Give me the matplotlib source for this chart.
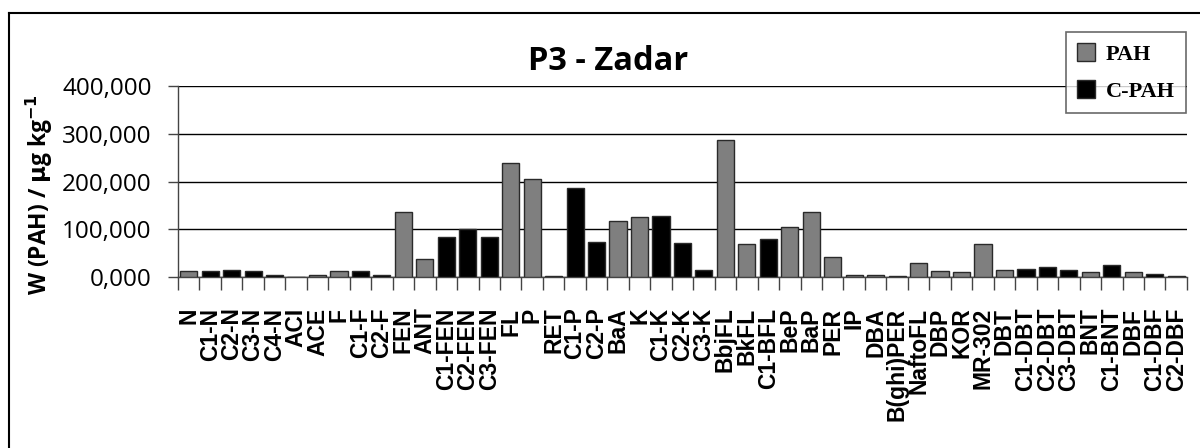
import matplotlib
matplotlib.use("Agg")
import matplotlib.pyplot as plt
from matplotlib.lines import Line2D
from matplotlib.patches import Patch
from matplotlib.ticker import FuncFormatter

categories = ["N", "C1-N", "C2-N", "C3-N", "C4-N", "ACI", "ACE", "F", "C1-F", "C2-F",
              "FEN", "ANT", "C1-FEN", "C2-FEN", "C3-FEN", "FL", "P", "RET", "C1-P", "C2-P",
              "BaA", "K", "C1-K", "C2-K", "C3-K", "BbjFL", "BkFL", "C1-BFL", "BeP", "BaP",
              "PER", "IP", "DBA", "B(ghi)PER", "NaftoFL", "DBP", "KOR", "MR-302", "DBT",
              "C1-DBT", "C2-DBT", "C3-DBT", "BNT", "C1-BNT", "DBF", "C1-DBF", "C2-DBF"]

values = [12.5, 12.5, 14.6, 12.5, 4.0, 0.0, 4.0, 12.5, 12.5, 4.0,
          135.5, 37.0, 84.4, 100.0, 84.4, 238.7, 205.9, 2.0, 185.7, 72.6,
          118.0, 125.0, 128.5, 70.5, 14.6, 287.0, 69.8, 80.3, 104.7, 135.5,
          42.5, 4.0, 4.0, 2.0, 30.0, 12.5, 9.8, 69.8, 14.6,
          17.4, 20.2, 14.6, 9.8, 24.4, 9.8, 7.0, 2.0]  # in thousands of µg/kg

groups = ["PAH", "C-PAH", "C-PAH", "C-PAH", "C-PAH", "PAH", "PAH", "PAH", "C-PAH", "C-PAH",
          "PAH", "PAH", "C-PAH", "C-PAH", "C-PAH", "PAH", "PAH", "PAH", "C-PAH", "C-PAH",
          "PAH", "PAH", "C-PAH", "C-PAH", "C-PAH", "PAH", "PAH", "C-PAH", "PAH", "PAH",
          "PAH", "PAH", "PAH", "PAH", "PAH", "PAH", "PAH", "PAH", "PAH",
          "C-PAH", "C-PAH", "C-PAH", "PAH", "C-PAH", "PAH", "C-PAH", "C-PAH"]

yticks = [0, 100, 200, 300, 400]
title = "P3 - Zadar"
ylabel = r"W (PAH) / $\mathbf{\mu}$g kg$^{\mathbf{-1}}$"

group_colors = {"PAH": "#7f7f7f", "C-PAH": "#000000"}

fig = plt.figure(figsize=(12, 4.48), dpi=100)
ax = fig.add_axes([0.1483, 0.3817, 0.8408, 0.4263])

x = list(range(len(categories)))
cols = [group_colors[g] for g in groups]
ax.bar(x, values, width=0.8, color=cols, edgecolor="#2a2a2a", linewidth=1.0, zorder=3)

ax.set_xlim(-0.5, len(categories) - 0.5)
ax.set_ylim(0, 400)
ax.set_yticks(yticks)
ax.yaxis.set_major_formatter(FuncFormatter(lambda v, p: f"{int(v):d},000" if v > 0 else "0,000"))
ax.grid(axis="y", color="black", linewidth=1.0, zorder=0)
for s in ["top", "right"]:
    ax.spines[s].set_visible(False)
ax.spines["left"].set_color("#444444")
ax.spines["bottom"].set_color("#444444")
ax.spines["left"].set_linewidth(1.0)
ax.spines["bottom"].set_linewidth(1.0)

ax.set_xticks(x)
ax.set_xticklabels(categories, rotation=90, fontfamily="Liberation Sans",
                   fontweight="bold", fontsize=16.5)
ax.tick_params(axis="x", length=0, pad=22)
ax.set_xticks([i - 0.5 for i in range(len(categories) + 1)], minor=True)
ax.tick_params(axis="x", which="minor", length=9, width=1.0, color="#444444")
ax.tick_params(axis="y", length=7, width=1.0, color="#444444", pad=12)
for lab in ax.get_yticklabels():
    lab.set_fontfamily("Open Sans")
    lab.set_fontsize(17.5)

fig.text(0.033, 0.565, ylabel, rotation=90, ha="center", va="center",
         fontfamily="Open Sans", fontweight="bold", fontsize=16.5)

fig.text(0.507, 0.862, title, ha="center", va="center",
         fontfamily="Open Sans", fontweight="bold", fontsize=23.5)

handles = [Patch(facecolor=group_colors["PAH"], edgecolor="#2a2a2a"),
           Patch(facecolor=group_colors["C-PAH"], edgecolor="#2a2a2a")]
leg = fig.legend(handles, ["PAH", "C-PAH"], loc="upper left",
                 bbox_to_anchor=(1066 / 1200, 1 - 32 / 448),
                 prop={"family": "Liberation Serif", "weight": "bold", "size": 16},
                 frameon=True, fancybox=False, edgecolor="#444444",
                 handlelength=0.8, handleheight=0.85, handletextpad=0.5,
                 borderpad=0.5, labelspacing=0.7, borderaxespad=0)
leg.get_frame().set_linewidth(1.2)

# outer frame lines (top and left)
fig.add_artist(Line2D([9 / 1200, 1.0], [1 - 13 / 448, 1 - 13 / 448],
                      transform=fig.transFigure, color="black", linewidth=1.5))
fig.add_artist(Line2D([9 / 1200, 9 / 1200], [0.0, 1 - 13 / 448],
                      transform=fig.transFigure, color="black", linewidth=1.5))

fig.savefig("out.png", dpi=100)
